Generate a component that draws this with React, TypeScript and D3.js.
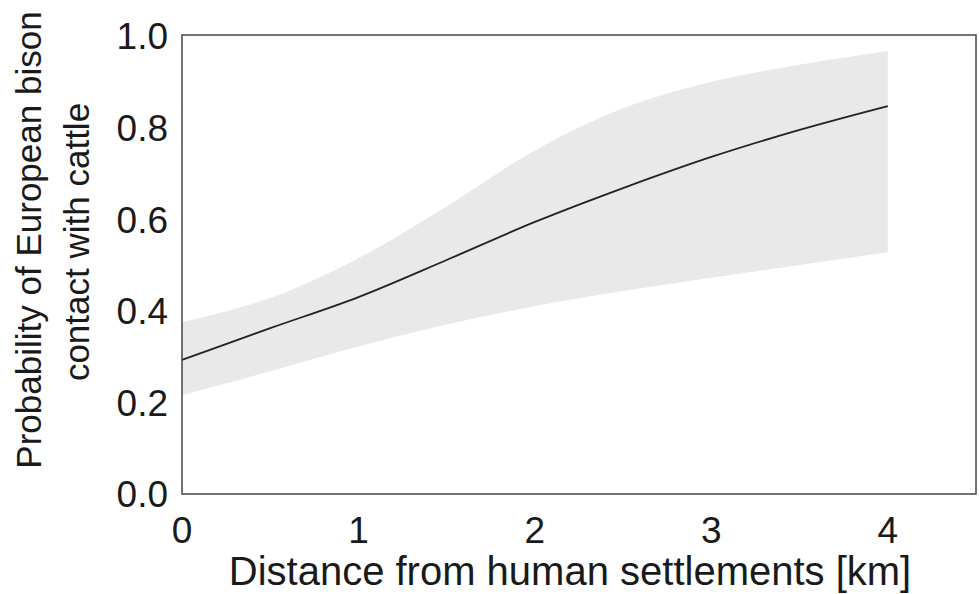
import React from 'react';
import * as d3 from 'd3';

// distance from settlements [km]
const distance = [0, 0.5, 1, 1.5, 2, 2.5, 3, 3.5, 4];
// fitted probability and its confidence band
const probability = [0.293, 0.362, 0.43, 0.511, 0.594, 0.668, 0.736, 0.795, 0.847];
const upperCI = [0.375, 0.428, 0.515, 0.628, 0.75, 0.842, 0.9, 0.937, 0.967];
const lowerCI = [0.216, 0.268, 0.322, 0.37, 0.41, 0.443, 0.472, 0.5, 0.528];

const xTicks = [0, 1, 2, 3, 4];
const yTicks = [0, 0.2, 0.4, 0.6, 0.8, 1.0];

const width = 979;
const height = 594;
const margin = { top: 35, right: 3, bottom: 100, left: 182 };
const font = 'Liberation Sans, Arial, sans-serif';

export default function App() {
  const x = d3.scaleLinear().domain([0, 4.5]).range([margin.left, width - margin.right]);
  const y = d3.scaleLinear().domain([0, 1]).range([height - margin.bottom, 36]);

  const pts = distance.map((d, i) => ({ d, p: probability[i], lo: lowerCI[i], hi: upperCI[i] }));

  const area = d3
    .area<any>()
    .curve(d3.curveCatmullRom.alpha(0.5))
    .x((d) => x(d.d))
    .y0((d) => y(d.lo))
    .y1((d) => y(d.hi));

  const line = d3
    .line<any>()
    .curve(d3.curveCatmullRom.alpha(0.5))
    .x((d) => x(d.d))
    .y((d) => y(d.p));

  const plotBottom = height - margin.bottom;

  return (
    <svg
      width={width}
      height={height}
      style={{ position: 'absolute', left: 0, top: 0, background: '#fff' }}
      fontFamily={font}
    >
      <path d={area(pts) || ''} fill="#e9e9e9" />
      <path d={line(pts) || ''} fill="none" stroke="#222" strokeWidth={1.8} />

      {/* frame */}
      <rect
        x={margin.left}
        y={margin.top}
        width={width - margin.right - margin.left}
        height={plotBottom - margin.top}
        fill="none"
        stroke="#444"
        strokeWidth={1.5}
      />

      {yTicks.map((t) => (
        <text
          key={'y' + t}
          x={168}
          y={y(t)}
          dy="0.36em"
          textAnchor="end"
          fontSize={37}
          fill="#1a1a1a"
        >
          {t.toFixed(1)}
        </text>
      ))}

      {xTicks.map((t) => (
        <text key={'x' + t} x={x(t)} y={543} textAnchor="middle" fontSize={37} fill="#1a1a1a">
          {t}
        </text>
      ))}

      <text x={570} y={585} textAnchor="middle" fontSize={40} fill="#1a1a1a">
        Distance from human settlements [km]
      </text>

      <text transform="translate(41,240) rotate(-90)" textAnchor="middle" fontSize={35} fill="#1a1a1a">
        Probability of European bison
      </text>
      <text transform="translate(89,242) rotate(-90)" textAnchor="middle" fontSize={35} fill="#1a1a1a">
        contact with cattle
      </text>
    </svg>
  );
}
